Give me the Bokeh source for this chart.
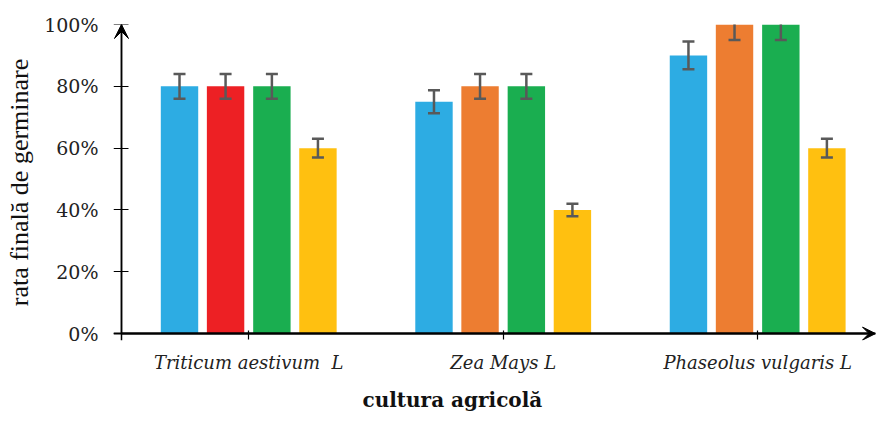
from bokeh.plotting import figure
from bokeh.models import (Range1d, FixedTicker, Arrow, VeeHead, Title, NumeralTickFormatter,
                          LinearAxis)
from bokeh.embed import file_html
from bokeh.resources import INLINE

# ---- data ----
crops = ["Triticum aestivum  L", "Zea Mays L", "Phaseolus vulgaris L"]
s1 = [0.80, 0.75, 0.90]
e1 = [0.040, 0.0375, 0.045]
s2 = [0.80, 0.80, 1.00]
e2 = [0.040, 0.040, 0.050]
s3 = [0.80, 0.80, 1.00]
e3 = [0.040, 0.040, 0.050]
s4 = [0.60, 0.40, 0.60]
e4 = [0.030, 0.020, 0.030]
y_ticks = [0, 0.2, 0.4, 0.6, 0.8, 1.0]

c1 = ["#2DACE3"] * 3
c2 = ["#ED2024", "#ED7D31", "#ED7D31"]
c3 = ["#1AAE50"] * 3
c4 = ["#FFC010"] * 3

# ---- layout ----
X_MIN, X_MAX = -0.0314, 2.963
Y_MIN, Y_MAX = -0.0223, 1.0
offsets = [-0.272, -0.091, 0.091, 0.272]
bar_w = 0.147
err_col = "#595959"

p = figure(width=876, height=421, output_backend="svg", toolbar_location=None,
           x_range=Range1d(X_MIN, X_MAX), y_range=Range1d(Y_MIN, Y_MAX),
           min_border_left=113, min_border_right=1, min_border_top=24, min_border_bottom=76)
p.outline_line_color = None
p.grid.grid_line_color = None
p.background_fill_color = "white"
p.border_fill_color = "white"

centers = [i + 0.5 for i in range(len(crops))]
series = [(s1, e1, c1), (s2, e2, c2), (s3, e3, c3), (s4, e4, c4)]
for (vals, errs, cols), off in zip(series, offsets):
    xs = [c + off for c in centers]
    p.vbar(x=xs, top=vals, bottom=0, width=bar_w, fill_color=cols, line_color=None)
    lo = [v - e for v, e in zip(vals, errs)]
    hi = [v + e for v, e in zip(vals, errs)]
    p.segment(x0=xs, y0=lo, x1=xs, y1=hi, line_color=err_col, line_width=2.5)
    p.scatter(x=xs, y=lo, marker="dash", size=12, line_color=err_col, line_width=2.5)
    p.scatter(x=xs, y=hi, marker="dash", size=12, line_color=err_col, line_width=2.5)

# y axis: labels on the side axis
ya = p.yaxis[0]
ya.ticker = FixedTicker(ticks=y_ticks)
ya.formatter = NumeralTickFormatter(format="0%")
ya.axis_line_color = None
ya.major_tick_line_color = None
ya.minor_tick_line_color = None
ya.major_tick_in = 0
ya.major_tick_out = 0
ya.major_label_text_font = "DejaVu Serif"
ya.major_label_text_font_size = "19px"
ya.major_label_text_color = "#222222"
ya.major_label_standoff = 15
ya.axis_label = "rata finală de germinare"
ya.axis_label_text_font = "Liberation Serif"
ya.axis_label_text_font_size = "26px"
ya.axis_label_text_font_style = "normal"
ya.axis_label_text_color = "#111111"
ya.axis_label_standoff = 7

# y axis line + ticks at x = 0
ya2 = LinearAxis(fixed_location=0, ticker=FixedTicker(ticks=y_ticks),
                 major_tick_in=7, major_tick_out=8, major_tick_line_width=1.2,
                 minor_tick_line_color=None, axis_line_width=1.5,
                 major_label_text_alpha=0, major_label_text_font_size="1px")
p.add_layout(ya2, "left")

# x axis: labels on the side axis
xa = p.xaxis[0]
xa.ticker = FixedTicker(ticks=centers)
xa.major_label_overrides = {c: n.replace("  ", "\u00a0 ") for c, n in zip(centers, crops)}
xa.axis_line_color = None
xa.major_tick_line_color = None
xa.minor_tick_line_color = None
xa.major_tick_in = 0
xa.major_tick_out = 0
xa.axis_label_standoff = 0
xa.major_label_text_font = "DejaVu Serif"
xa.major_label_text_font_style = "italic"
xa.major_label_text_font_size = "18px"
xa.major_label_text_color = "#222222"
xa.major_label_standoff = 11

# x axis line + ticks at y = 0 (placed in the top panel so it takes no room below)
xa2 = LinearAxis(fixed_location=0, ticker=FixedTicker(ticks=centers),
                 major_tick_in=6, major_tick_out=3, major_tick_line_width=1.2,
                 minor_tick_line_color=None, axis_line_width=2,
                 major_label_text_alpha=0, major_label_text_font_size="1px")
p.add_layout(xa2, "above")

# axis arrows
p.add_layout(Arrow(end=VeeHead(size=14, line_width=1, line_color="black", fill_color="black"),
                   x_start=0, y_start=0, x_end=0, y_end=Y_MAX, line_width=1.5))
p.add_layout(Arrow(end=VeeHead(size=13, line_width=1, line_color="black", fill_color="black"),
                   x_start=0, y_start=0, x_end=X_MAX, y_end=0, line_width=2))

p.add_layout(Title(text="cultura agricolă", align="left", offset=249, standoff=20,
                   text_font="DejaVu Serif", text_font_size="20px",
                   text_font_style="bold", text_color="#111111"), "below")

open("out.html", "w").write(file_html(p, INLINE))
